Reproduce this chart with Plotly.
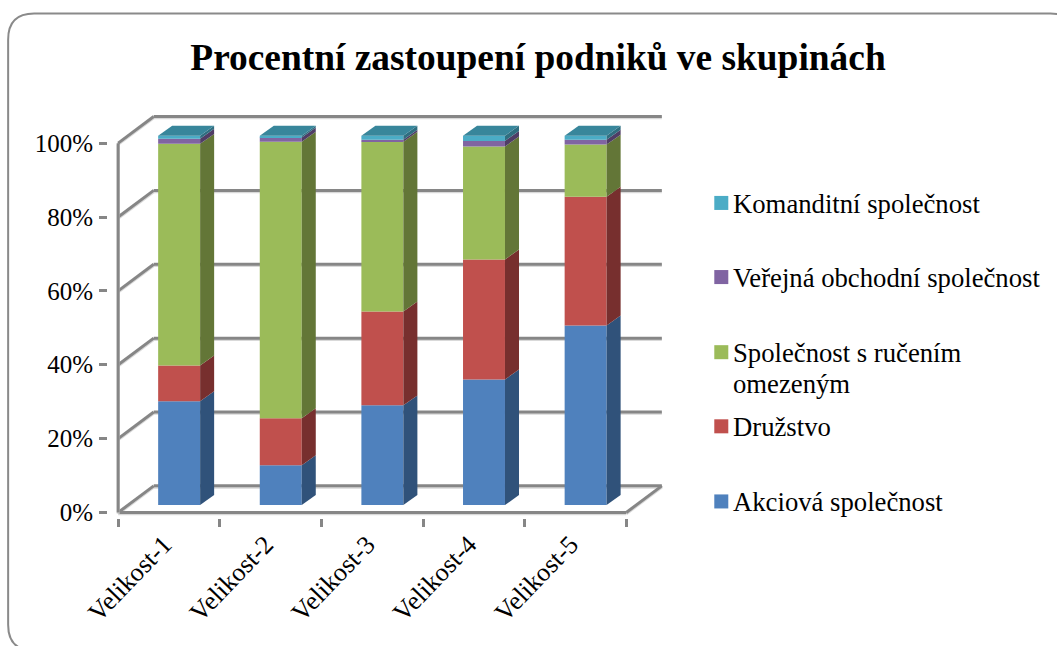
import plotly.graph_objects as go

# ---- data (percent share per size group) ----
categories = ["Velikost-1", "Velikost-2", "Velikost-3", "Velikost-4", "Velikost-5"]
akciova = [28.1, 10.8, 27.0, 34.0, 48.6]
druzstvo = [9.7, 12.7, 25.4, 32.5, 34.9]
sro = [60.0, 74.9, 46.0, 30.6, 14.1]
vos = [1.4, 1.1, 0.5, 1.5, 1.3]
komanditni = [0.8, 0.5, 1.1, 1.4, 1.1]
y_ticks = [0, 20, 40, 60, 80, 100]

series = [
    ("Akciová společnost", akciova, "#4F81BD", "#30527A"),
    ("Družstvo", druzstvo, "#C0504D", "#772F2E"),
    ("Společnost s ručením omezeným", sro, "#9BBB59", "#637637"),
    ("Veřejná obchodní společnost", vos, "#8064A2", "#4F3D66"),
    ("Komanditní společnost", komanditni, "#4BACC6", "#2F6E80"),
]
top_colour = "#38869B"

# ---- 3D look expressed in axis units ----
WALL_DX, WALL_DY = 0.35, 7.2     # front plane -> back wall
BAR_X, BAR_W = 0.60, 0.413       # bar centre inside a category, bar width
BAR_BASE = 2.0                   # bars stand a little behind the front edge
DEPTH_DX, DEPTH_DY = 0.138, 2.7  # bar depth
LABEL_SHIFT = 0.45               # where rotated labels end inside a category
GRID = "#868686"
SHADOW = "#D9D9D9"
FONT = "Liberation Serif"

W, H = 1057, 646
X_RANGE = [-0.1, 5.45]
Y_RANGE = [-1.5, 108.7]
PX_X = 101.6
PX_Y = 3.687
ORIGIN_X, ORIGIN_Y = 118.0, 512.0
left = ORIGIN_X + X_RANGE[0] * PX_X
right = ORIGIN_X + X_RANGE[1] * PX_X
top = ORIGIN_Y - Y_RANGE[1] * PX_Y
bottom = ORIGIN_Y - Y_RANGE[0] * PX_Y


def px(x):
    return (x - left) / (right - left)


def py(y):
    return (bottom - y) / (bottom - top)


fig = go.Figure()
shapes = []
n_cat = len(categories)


def grid_line(xs, ys, width=3):
    for colour, dy, w in ((SHADOW, -0.35, width), (GRID, 0, width)):
        for i in range(len(xs) - 1):
            shapes.append(dict(type="line", xref="x", yref="y", layer="below",
                               x0=xs[i], y0=ys[i] + dy, x1=xs[i + 1], y1=ys[i + 1] + dy,
                               line=dict(color=colour, width=w)))


for v in y_ticks:
    grid_line([0, WALL_DX, n_cat + WALL_DX], [v, v + WALL_DY, v + WALL_DY])
grid_line([0, n_cat, n_cat + WALL_DX], [0, 0, WALL_DY])
grid_line([0, 0], [0, y_ticks[-1]])

# Outer rounded frame
x0, y0, x1, y1, r = 8, 14, 1076, 650, 26
frame = (f"M {px(x0)} {py(y0 + r)} Q {px(x0)} {py(y0)} {px(x0 + r)} {py(y0)} "
         f"L {px(x1 - r)} {py(y0)} Q {px(x1)} {py(y0)} {px(x1)} {py(y0 + r)} "
         f"L {px(x1)} {py(y1 - r)} Q {px(x1)} {py(y1)} {px(x1 - r)} {py(y1)} "
         f"L {px(x0 + r)} {py(y1)} Q {px(x0)} {py(y1)} {px(x0)} {py(y1 - r)} Z")
shapes.append(dict(type="path", xref="paper", yref="paper", layer="below", path=frame,
                   line=dict(color="#8A8A8A", width=2), fillcolor="rgba(0,0,0,0)"))

# Stacked bars: front faces by go.Bar, sides by filled polygons
cum = [BAR_BASE] * n_cat
x_pos = [i + BAR_X for i in range(n_cat)]
for name, values, colour, side in series:
    fig.add_trace(go.Bar(x=x_pos, y=values, base=list(cum), width=BAR_W, name=name,
                         marker=dict(color=colour, line=dict(width=0)), showlegend=False))
    for i in range(n_cat):
        xr = x_pos[i] + BAR_W / 2
        b, t = cum[i], cum[i] + values[i]
        fig.add_trace(go.Scatter(
            x=[xr, xr + DEPTH_DX, xr + DEPTH_DX, xr, xr],
            y=[b, b + DEPTH_DY, t + DEPTH_DY, t, b],
            mode="lines", fill="toself", fillcolor=side, line=dict(width=0),
            hoverinfo="skip", showlegend=False))
        cum[i] = t

# Top caps
for i in range(n_cat):
    xl, xr = x_pos[i] - BAR_W / 2, x_pos[i] + BAR_W / 2
    t = cum[i]
    fig.add_trace(go.Scatter(
        x=[xl, xr, xr + DEPTH_DX, xl + DEPTH_DX, xl],
        y=[t, t, t + DEPTH_DY, t + DEPTH_DY, t],
        mode="lines", fill="toself", fillcolor=top_colour, line=dict(width=0),
        hoverinfo="skip", showlegend=False))

# Hand placed legend (the two-line entry keeps its key beside the first line)
legend_rows = [
    (203, 204, "Komanditní společnost", "#4BACC6"),
    (277, 278, "Veřejná obchodní společnost", "#8064A2"),
    (352, 353, "Společnost s ručením", "#9BBB59"),
    (None, 384, "omezeným", None),
    (426, 427, "Družstvo", "#C0504D"),
    (501, 502, "Akciová společnost", "#4F81BD"),
]
annotations = []
for key_y, text_y, text, colour in legend_rows:
    if key_y is not None:
        shapes.append(dict(type="rect", xref="paper", yref="paper",
                           x0=px(714), x1=px(728), y0=py(key_y - 7), y1=py(key_y + 7),
                           fillcolor=colour, line=dict(width=0)))
    annotations.append(dict(xref="paper", yref="paper", x=px(731), y=py(text_y),
                            xanchor="left", yanchor="middle", showarrow=False, text=text,
                            font=dict(family=FONT, size=26.7, color="#000000")))

fig.update_layout(
    width=W, height=H, autosize=False, showlegend=False,
    barmode="overlay", plot_bgcolor="white", paper_bgcolor="white",
    margin=dict(l=left, r=W - right, t=top, b=H - bottom, pad=0),
    title=dict(text="<b>Procentní zastoupení podniků ve skupinách</b>",
               x=538 / W, xanchor="center", y=1 - 57 / H, yanchor="middle",
               font=dict(family=FONT, size=37.4, color="#000000")),
    shapes=shapes, annotations=annotations,
    xaxis=dict(range=X_RANGE, showgrid=False, zeroline=False, showline=False,
               tickmode="array", tickvals=[i + LABEL_SHIFT for i in range(n_cat)],
               ticktext=categories, ticks="", tickangle=-46,
               tickfont=dict(family=FONT, size=26, color="#000000"),
               ticklabelstandoff=5,
               minor=dict(tickmode="array", tickvals=list(range(n_cat + 1)), ticks="outside",
                          ticklen=8, tickwidth=3, tickcolor=GRID, showgrid=False)),
    yaxis=dict(range=Y_RANGE, showgrid=False, zeroline=False, showline=False,
               tickmode="array", tickvals=y_ticks, ticktext=[f"{v}%" for v in y_ticks],
               ticks="", tickfont=dict(family=FONT, size=25, color="#000000"),
               ticklabelstandoff=14,
               minor=dict(tickmode="array", tickvals=y_ticks, ticks="outside",
                          ticklen=8, tickwidth=3, tickcolor=GRID, showgrid=False)),
)

fig.write_html("out.html", config={"displayModeBar": False},
               post_script="document.body.style.margin='0';document.documentElement.style.overflow='hidden';")
